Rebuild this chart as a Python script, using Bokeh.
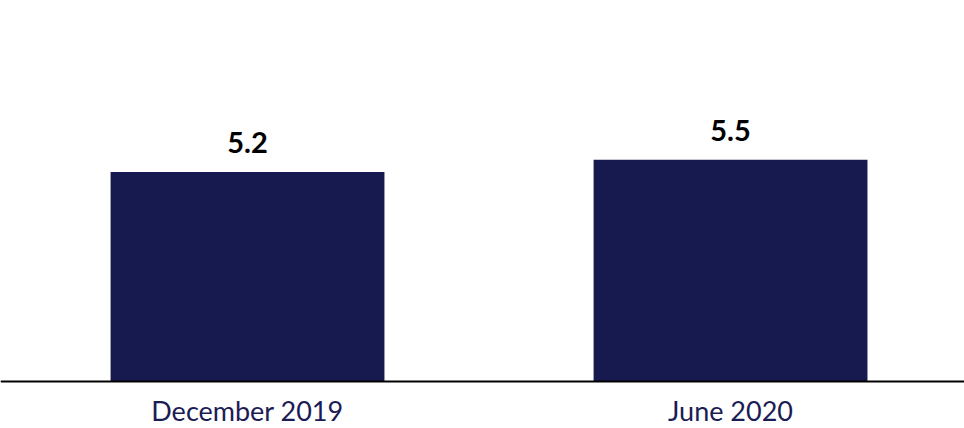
import numpy as np
from bokeh.plotting import figure
from bokeh.models import Range1d, ColumnDataSource, Span
from bokeh.core.properties import value
from bokeh.embed import file_html
from bokeh.resources import INLINE

categories = ["December 2019", "June 2020"]
values = [5.2, 5.5]
value_labels = ["5.2", "5.5"]

xpos = (np.arange(len(categories)) + 0.5).tolist()
src = ColumnDataSource(dict(x=xpos, top=values, label=value_labels,
                            cat=categories, zero=[0] * len(categories)))

p = figure(width=964, height=428, output_backend="svg", toolbar_location=None,
           x_range=Range1d(-0.0114, 1.9844), y_range=Range1d(-1.166, 9.454),
           min_border_left=0, min_border_right=0, min_border_top=0, min_border_bottom=0)
p.outline_line_color = None
p.grid.visible = False
p.axis.visible = False
p.background_fill_color = "white"
p.border_fill_color = "white"

p.vbar(x="x", top="top", bottom=0, width=0.567, source=src,
       fill_color="#171A4F", line_color=None)
p.text(x="x", y="top", text="label", source=src, text_align="center",
       text_baseline="bottom", y_offset=-19, text_font=value("Lato"),
       text_font_style="bold", text_font_size="29px", text_color="#000000")

# baseline axis line
p.add_layout(Span(location=0, dimension="width", line_color="#000000", line_width=2))

# category labels
p.text(x="x", y="zero", text="cat", source=src, text_align="center",
       text_baseline="middle", y_offset=29, text_line_height=1.0,
       text_font=value("Lato"), text_font_size="27px", text_color="#1C1C55")

open("out.html", "w").write(file_html(p, INLINE))
